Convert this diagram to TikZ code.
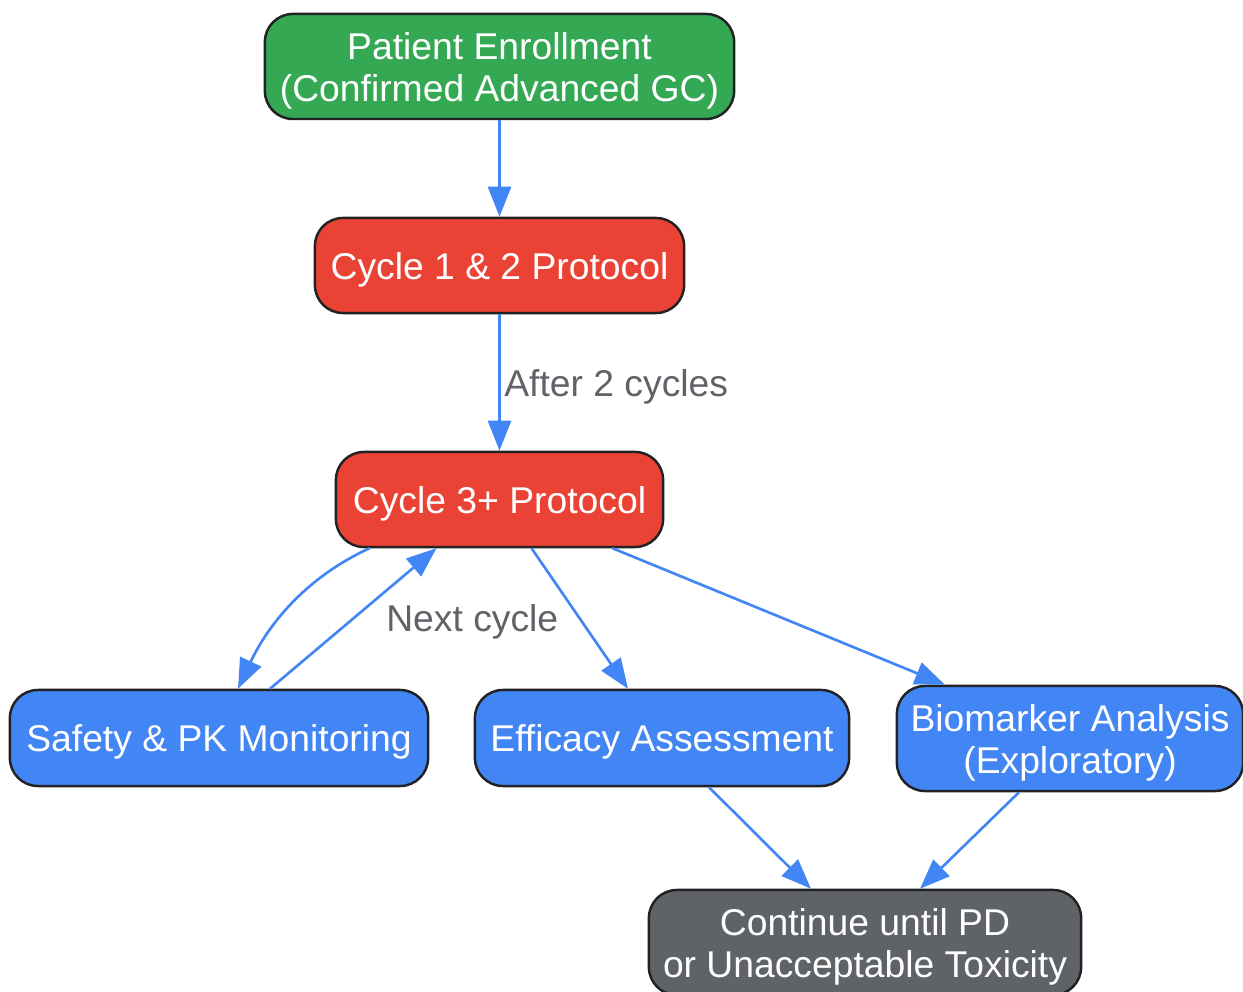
\documentclass[tikz,border=0pt]{standalone}
\usepackage{fontspec}
\setmainfont{Liberation Sans}
\usetikzlibrary{arrows.meta}
\definecolor{gcgreen}{HTML}{34A853}
\definecolor{gcred}{HTML}{EA4335}
\definecolor{gcblue}{HTML}{4285F4}
\definecolor{gcgrey}{HTML}{5F6368}
\definecolor{gcline}{HTML}{222222}
\newcommand{\upstrut}{\rule{0pt}{0.95em}}
\begin{document}
\begin{tikzpicture}[x=0.01cm, y=-0.01cm,
  box/.style={draw=gcline, line width=0.7pt, rounded corners=0.28cm, text=white, align=center,
    font=\fontsize{10.6pt}{12pt}\selectfont, inner sep=0pt},
  flow/.style={draw=gcblue, line width=0.75pt, -{Triangle[length=0.3cm, width=0.23cm]}},
  lbl/.style={text=gcgrey, font=\fontsize{10.6pt}{12pt}\selectfont}]
\useasboundingbox (0,0) rectangle (1243,992);
%boxes
\node [box, fill=gcgreen, minimum width=4.69cm, minimum height=1.05cm] (enroll) at (499.5,66.5) {\upstrut Patient Enrollment\\(Confirmed Advanced GC)};
\node [box, fill=gcred, minimum width=3.69cm, minimum height=0.95cm] (cyc12) at (499.5,265.5) {\upstrut Cycle 1 \& 2 Protocol};
\node [box, fill=gcred, minimum width=3.27cm, minimum height=0.95cm] (cyc3) at (499.5,499.5) {\upstrut Cycle 3+ Protocol};
\node [box, fill=gcblue, minimum width=4.18cm, minimum height=0.96cm] (safety) at (219,738) {\upstrut Safety \& PK Monitoring};
\node [box, fill=gcblue, minimum width=3.74cm, minimum height=0.96cm] (effic) at (662,738) {\upstrut Efficacy Assessment};
\node [box, fill=gcblue, minimum width=3.46cm, minimum height=1.05cm] (bio) at (1070,738.5) {\upstrut Biomarker Analysis\\(Exploratory)};
\node [box, fill=gcgrey, minimum width=4.32cm, minimum height=1.05cm] (cont) at (865,942.5) {\upstrut Continue until PD\\or Unacceptable Toxicity};
%arrows
\draw [flow] (enroll.south) -- (cyc12.north);
\draw [flow] (cyc12.south) -- node [lbl, right, inner sep=1pt, yshift=-0.04cm] {After 2 cycles} (cyc3.north);
\draw [flow] ([xshift=-1.3cm]cyc3.south) .. controls (305,578) and (268,625) .. ([xshift=0.19cm]safety.north);
\draw [flow] ([xshift=0.51cm]safety.north) -- node [lbl, right, xshift=0.2cm, yshift=-0.03cm] {Next cycle} ([xshift=-0.63cm]cyc3.south);
\draw [flow] ([xshift=0.32cm]cyc3.south) -- ([xshift=-0.34cm]effic.north);
\draw [flow] ([xshift=1.13cm]cyc3.south) -- ([xshift=-1.25cm]bio.north);
\draw [flow] ([xshift=0.47cm]effic.south) -- ([xshift=-0.54cm]cont.north);
\draw [flow] ([xshift=-0.51cm]bio.south) -- ([xshift=0.55cm]cont.north);
\end{tikzpicture}
\end{document}
